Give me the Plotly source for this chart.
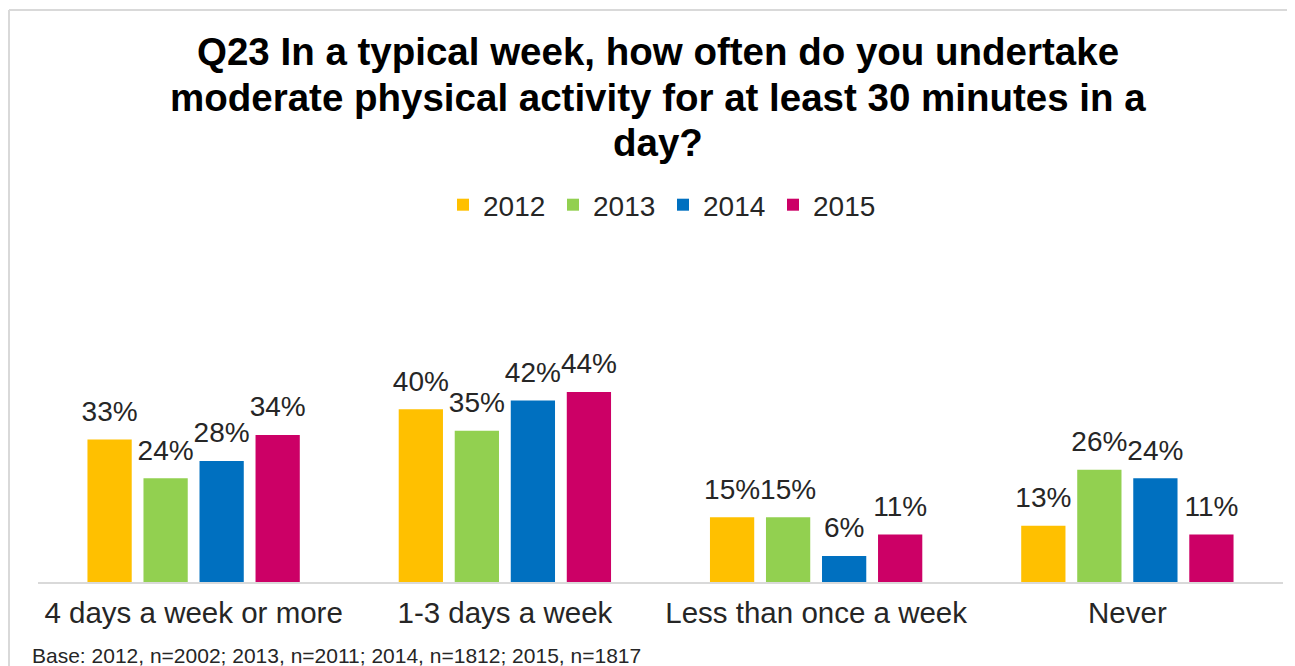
import plotly.graph_objects as go

categories = ["4 days a week or more", "1-3 days a week", "Less than once a week", "Never"]
years = ["2012", "2013", "2014", "2015"]
values_2012 = [33, 40, 15, 13]
values_2013 = [24, 35, 15, 26]
values_2014 = [28, 42, 6, 24]
values_2015 = [34, 44, 11, 11]
colors = ["#FFC000", "#92D050", "#0070C0", "#CC0066"]
title_lines = [
    "Q23 In a typical week, how often do you undertake",
    "moderate physical activity for at least 30 minutes in a",
    "day?",
]
footnote = "Base: 2012, n=2002; 2013, n=2011; 2014, n=1812; 2015, n=1817"

series = [values_2012, values_2013, values_2014, values_2015]

# page body has an 8px margin, so the figure is drawn 8px in from the corner
OFF = 8
W, H = 1295 - OFF, 666 - OFF
L, R, T, B = 30, 12, 232, 84
PW, PH = W - L - R, H - T - B
PX_PER_PCT = 4.32

FONT = "Arial, Liberation Sans, sans-serif"
TXT = "#262626"


def sx(px):  # screen x (reference) -> paper x
    return (px - OFF - L) / PW


def sy(py):  # screen y (reference) -> paper y
    return (H - B - (py - OFF)) / PH


fig = go.Figure()
for yr, vals, col in zip(years, series, colors):
    fig.add_trace(go.Bar(
        name=yr, x=categories, y=vals,
        marker=dict(color=col, line=dict(width=0)),
        offsetgroup=yr, legendgroup=yr,
        hovertemplate="%{x}<br>" + yr + ": %{y}%<extra></extra>",
    ))
for yr, vals in zip(years, series):
    fig.add_trace(go.Scatter(
        x=categories, y=vals, mode="markers+text",
        text=[f"{v}%" for v in vals], textposition="top center",
        textfont=dict(family=FONT, size=28, color=TXT),
        marker=dict(size=17, opacity=0),
        offsetgroup=yr, legendgroup=yr, showlegend=False,
        hoverinfo="skip", cliponaxis=False,
    ))

annotations = []
for line, base in zip(title_lines, [65, 110, 155]):
    annotations.append(dict(
        text=f"<b>{line}</b>", xref="paper", yref="paper",
        x=sx(658), y=sy(base - 13), xanchor="center", yanchor="middle",
        showarrow=False, font=dict(family=FONT, size=38.5, color="black"),
    ))
annotations.append(dict(
    text=footnote, xref="paper", yref="paper", x=sx(30), y=sy(655),
    xanchor="left", yanchor="middle", showarrow=False,
    font=dict(family=FONT, size=21, color=TXT),
))

fig.update_layout(
    width=W, height=H,
    margin=dict(l=L, r=R, t=T, b=B),
    paper_bgcolor="white", plot_bgcolor="white",
    font=dict(family=FONT, color=TXT),
    barmode="group", bargap=0.28, bargroupgap=0.21,
    scattermode="group", scattergap=0.28,
    showlegend=True,
    legend=dict(
        orientation="h", x=sx(663), xanchor="center",
        y=sy(205), yanchor="middle",
        font=dict(family=FONT, size=28, color=TXT),
        entrywidth=65, entrywidthmode="pixels",
        traceorder="normal",
    ),
    xaxis=dict(
        showline=True, linecolor="#D9D9D9", linewidth=2,
        showgrid=False, zeroline=False,
        tickfont=dict(family=FONT, size=29.5, color=TXT),
        ticks="", ticklabelstandoff=4,
    ),
    yaxis=dict(
        range=[0, PH / PX_PER_PCT], visible=False, showgrid=False, zeroline=False,
    ),
    shapes=[
        dict(type="line", xref="paper", yref="paper",
             x0=sx(9), x1=sx(1295), y0=sy(10), y1=sy(10),
             line=dict(color="#D9D9D9", width=2)),
        dict(type="line", xref="paper", yref="paper",
             x0=sx(9), x1=sx(9), y0=sy(10), y1=sy(666),
             line=dict(color="#D9D9D9", width=2)),
    ],
    annotations=annotations,
)

fig.write_html("out.html")
